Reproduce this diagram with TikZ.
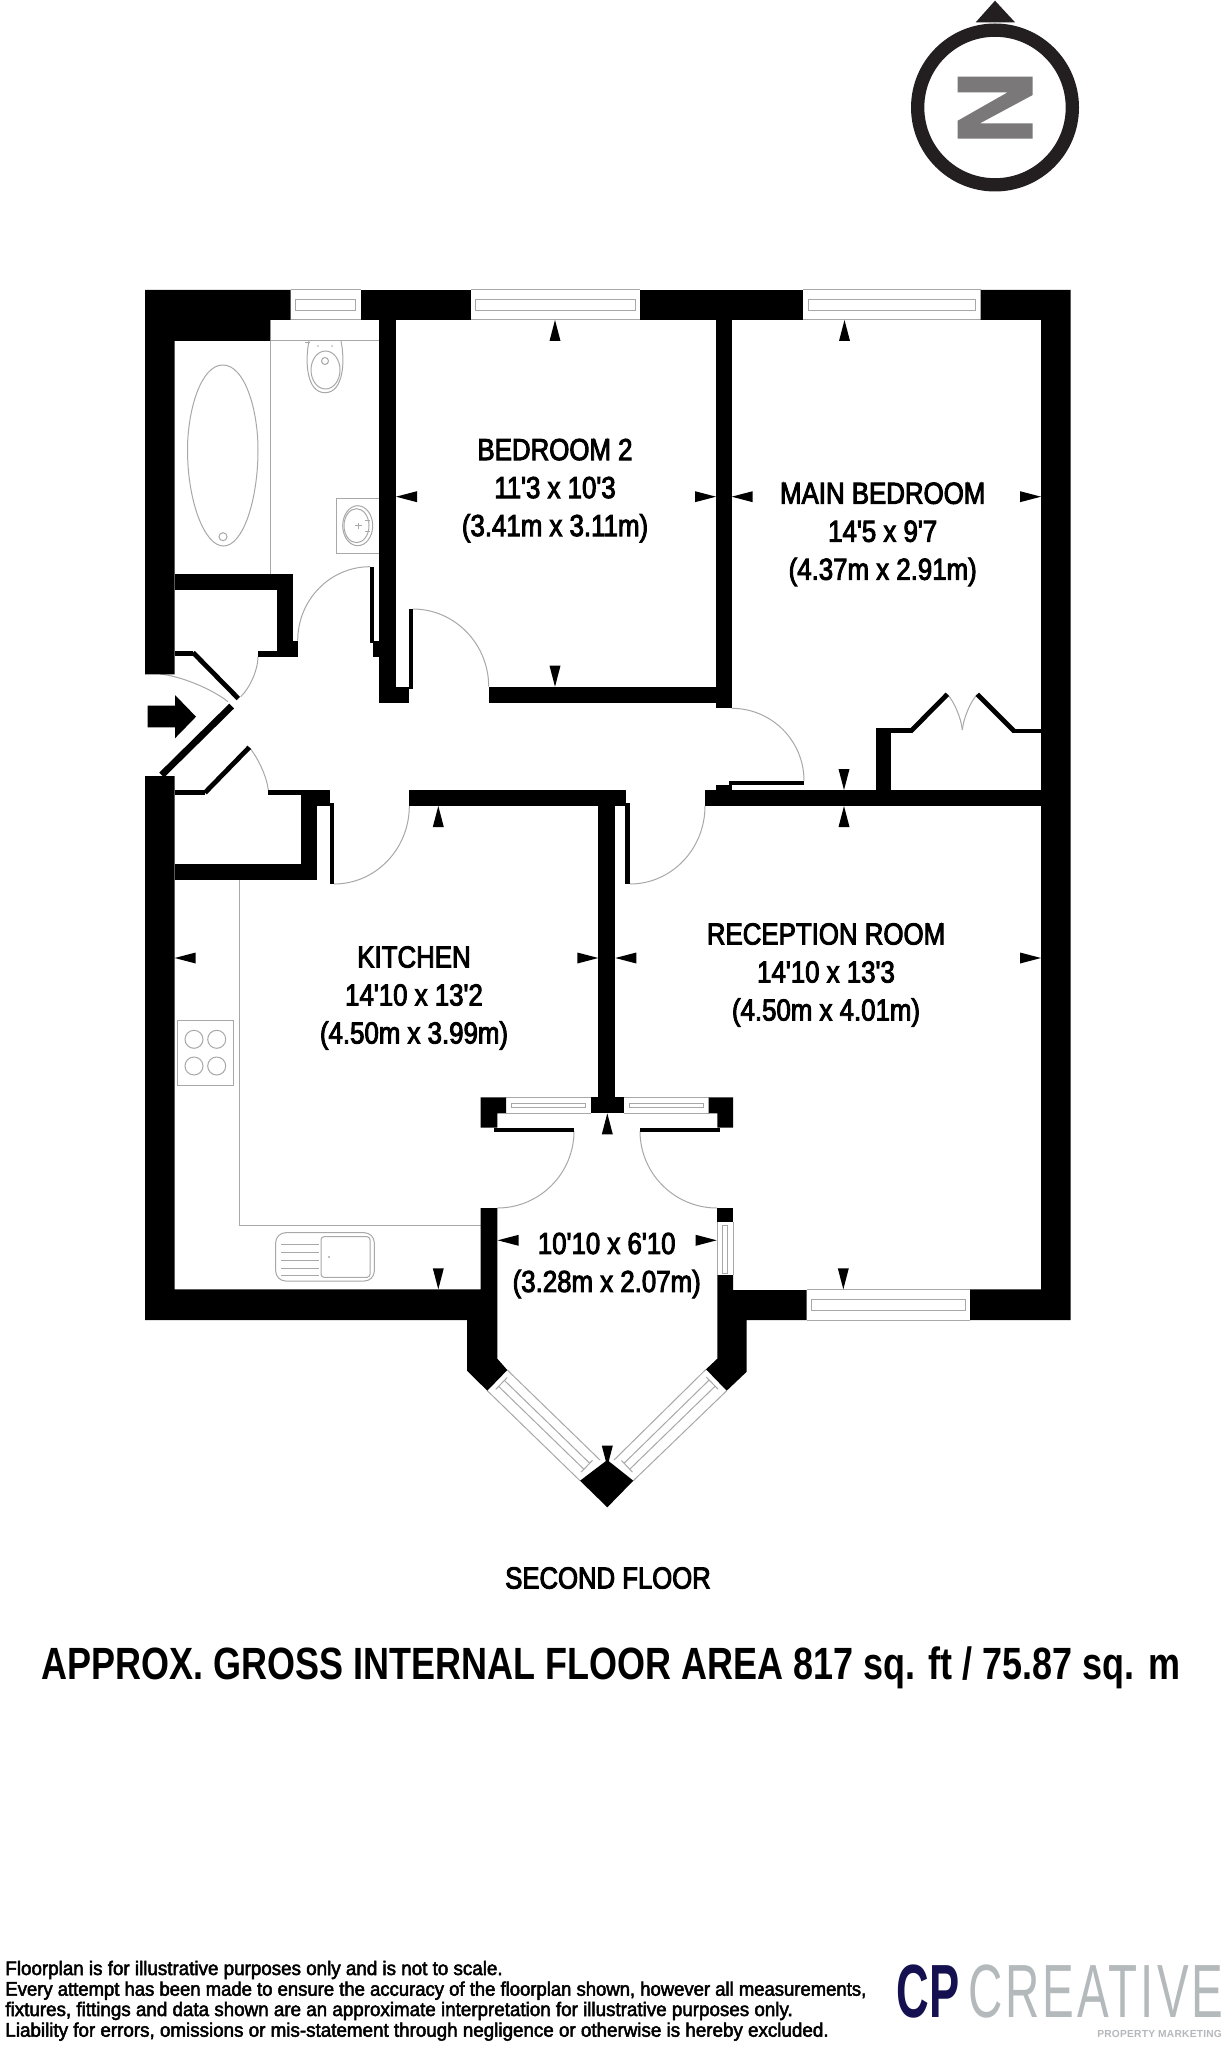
\documentclass[tikz,border=0pt]{standalone}
\usepackage{fontspec}
\usetikzlibrary{calc}
\setmainfont{Liberation Sans}
\newfontfamily\roomf[FakeStretch=.85,FakeBold=3]{Liberation Sans}
\newfontfamily\floorf[FakeStretch=.845,FakeBold=3.2]{Liberation Sans}
\newfontfamily\titlef[FakeStretch=.796]{Liberation Sans Bold}
\newfontfamily\footf[FakeStretch=.959,FakeBold=2.5]{Liberation Sans}
\newfontfamily\footg[FakeStretch=.943,FakeBold=2.5]{Liberation Sans}
\newfontfamily\cpf[FakeStretch=.6]{Liberation Sans Bold}
\newfontfamily\crf[FakeStretch=.63,LetterSpace=4]{Liberation Sans}
\newfontfamily\pmf[LetterSpace=2.4]{Liberation Sans Bold}
\definecolor{fix}{HTML}{A8A8A8}
\definecolor{ink}{HTML}{231F20}
\definecolor{zgrey}{HTML}{7A7879}
\definecolor{navy}{HTML}{15104F}
\definecolor{logogrey}{HTML}{B4B9BC}
\tikzset{
  x=.5pt,y=-.5pt,
  wall/.style={fill=black,draw=none},
  fixt/.style={draw=fix,line width=.5pt},
  leaf/.style={draw=black,line width=2.4pt,line cap=butt},
  tip/.style={fill=black,draw=none},
  room/.style={inner sep=0pt,align=center,font=\roomf\fontsize{15.2}{19}\selectfont},
  footline/.style={inner sep=0pt,anchor=base west,font=\footf\fontsize{9.8}{10.3}\selectfont}
}
\newcommand\W[4]{\fill[wall] (#1,#2) rectangle (#3,#4);}
\newcommand\Darc[6]{\draw[fixt] (#1,#2) .. controls ($(#1,#2)!.552!(#5,#6)$) and ($(#3,#4)!.552!(#5,#6)$) .. (#3,#4);}
\newcommand\Tu[2]{\fill[tip] (#1,#2) -- ($(#1,#2)+(5.5,21)$) -- ($(#1,#2)+(-5.5,21)$) -- cycle;}
\newcommand\Td[2]{\fill[tip] (#1,#2) -- ($(#1,#2)+(5.5,-21)$) -- ($(#1,#2)+(-5.5,-21)$) -- cycle;}
\newcommand\Tl[2]{\fill[tip] (#1,#2) -- ($(#1,#2)+(21,5.5)$) -- ($(#1,#2)+(21,-5.5)$) -- cycle;}
\newcommand\Tr[2]{\fill[tip] (#1,#2) -- ($(#1,#2)+(-21,5.5)$) -- ($(#1,#2)+(-21,-5.5)$) -- cycle;}
% horizontal window x1 x2 ytop ybot inner-top inner-bot
\newcommand\HW[6]{%
  \draw[fixt] (#1,#3) -- (#2,#3) (#1,#4) -- (#2,#4);
  \draw[fixt] ($(#1,#5)+(5,0)$) rectangle ($(#2,#6)+(-5,0)$);}
% bay window, corners A B (wall end) C D (far end)
\newcommand\Bay[8]{%
  \coordinate (ba) at (#1,#2); \coordinate (bb) at (#3,#4);
  \coordinate (bc) at (#5,#6); \coordinate (bd) at (#7,#8);
  \draw[fixt] (ba) -- (bd) (bb) -- (bc);
  \draw[fixt] ($(ba)!.33!(bb)!.04!($(bd)!.33!(bc)$)$) -- ($(bd)!.33!(bc)!.04!($(ba)!.33!(bb)$)$);
  \draw[fixt] ($(ba)!.62!(bb)!.04!($(bd)!.62!(bc)$)$) -- ($(bd)!.62!(bc)!.04!($(ba)!.62!(bb)$)$);
  \draw[fixt] ($(ba)!.2!(bb)!.04!(bd)$) -- ($(ba)!.75!(bb)!.04!(bc)$);
  \draw[fixt] ($(bd)!.2!(bc)!.04!(ba)$) -- ($(bd)!.75!(bc)!.04!(bb)$);}
\begin{document}
\begin{tikzpicture}
\useasboundingbox (0,0) rectangle (1226,2048);
\fill[white] (0,0) rectangle (1226,2048);

%% compass
\fill[ink,even odd rule] (995,107.5) circle [radius=84] (995,107.5) circle [radius=70.7];
\fill[ink] (975.7,22.3) -- (995,.7) -- (1015,22.3) -- cycle;
\fill[zgrey] (957.7,76.7) -- (1032.7,76.7) -- (1032.7,95) -- (980,123.3) -- (1032.7,123.3) -- (1032.7,138.7)
  -- (957.7,138.7) -- (957.7,120.7) -- (1007.7,92.3) -- (957.7,92.3) -- cycle;

%% windows
\HW{290.7}{360.7}{290}{320}{299.3}{310.7}
\HW{470.7}{640}{290}{320}{299.3}{310.7}
\HW{803.3}{980.7}{290}{320}{299.3}{310.7}
\HW{806.7}{970}{1289.3}{1320}{1299}{1310}
\HW{506}{590.7}{1097.3}{1113.3}{1103}{1107.5}
\HW{624}{708.7}{1097.3}{1113.3}{1103}{1107.5}
\draw[fixt] (717.3,1221.7) -- (717.3,1275) (733,1221.7) -- (733,1275);
\draw[fixt] (722.5,1225) rectangle (727.5,1273);
\Bay{507.3}{1370}{487.3}{1390.7}{580}{1480.7}{600}{1460}
\Bay{706}{1369.3}{726.7}{1390.7}{633.3}{1480.7}{614}{1460}

%% bathroom fittings
\draw[fixt] (270,341) -- (379.3,341);
\draw[fixt] (270,320) -- (270,574);
\draw[fixt] (222.8,365) .. controls (245,365) and (258,410) .. (258,450)
  .. controls (258,500) and (243,546) .. (223.5,546)
  .. controls (204,546) and (187.5,500) .. (187.5,450)
  .. controls (187.5,410) and (201,365) .. (222.8,365) -- cycle;
\draw[fixt] (223,536.7) circle [radius=4];
\draw[fixt] (309,341) .. controls (305,360) and (306,392.7) .. (325,392.7)
  .. controls (344,392.7) and (345,360) .. (341,341);
\draw[fixt] (325.5,370) ellipse [x radius=14.5,y radius=19];
\draw[fixt] (325,361) circle [radius=3.5];
\fill[fix] (318,346) circle [radius=.9] (332,346) circle [radius=.9];
\draw[fixt] (305,342.5) -- (310,342.5);
\draw[fixt] (379.3,498) -- (336.7,498) -- (336.7,553.3) -- (379.3,553.3);
\draw[fixt] (357.7,525.7) ellipse [x radius=15,y radius=20];
\draw[fixt] (356.5,525.7) ellipse [x radius=12.5,y radius=17];
\draw[fixt] (355,525.7) -- (361.5,525.7) (358.3,522.5) -- (358.3,529);
\draw[fixt] (365,520) -- (370,520) (365,531) -- (370,531);

%% kitchen fittings
\draw[fixt] (239,880) -- (239,1225.7) -- (480.7,1225.7);
\draw[fixt] (177.3,1020.7) rectangle (233.7,1085.3);
\draw[fixt] (194,1039.3) circle [radius=9] (216.7,1039.3) circle [radius=9]
  (194,1066) circle [radius=9] (216.7,1066) circle [radius=9];
\draw[fixt,rounded corners=5pt] (275.7,1232.7) rectangle (374.3,1281);
\draw[fixt,rounded corners=1.5pt] (321,1236.7) rectangle (370,1277.3);
\draw[fixt] (280.7,1244.3) -- (319,1244.3) (280.7,1252.3) -- (319,1252.3) (280.7,1260) -- (319,1260)
  (280.7,1268) -- (319,1268) (280.7,1275.7) -- (319,1275.7);
\fill[fix] (329,1257) circle [radius=1.2];

%% door swings
\Darc{412.7}{609}{488.7}{686.7}{488.7}{609}
\Darc{370}{566.7}{297.7}{640.7}{297.7}{566.7}
\Darc{160}{674}{228}{701.7}{198}{678}
\Darc{258}{656.7}{240.7}{696.7}{258}{680}
\Darc{250}{748.3}{268.3}{790}{266}{768}
\Darc{334}{884}{409.3}{806}{409.3}{884}
\Darc{630}{884}{705}{806}{705}{884}
\Darc{731.7}{708.3}{804}{780.7}{804}{708.3}
\Darc{947.3}{694.3}{962.3}{730}{960}{708}
\Darc{977.3}{694.3}{962.3}{730}{964.6}{708}
\Darc{574}{1131}{497.3}{1208}{574}{1208}
\Darc{640}{1131}{717}{1208}{640}{1208}

%% walls
\fill[wall] (145,290) -- (290.7,290) -- (290.7,320) -- (270,320) -- (270,341) -- (174.7,341) -- (174.7,674.3) -- (145,674.3) -- cycle;
\W{360.7}{290}{470.7}{320}
\W{379.3}{320}{396}{702.7}
\W{379.3}{686.7}{408.7}{702.7}
\W{408.7}{608.7}{412.7}{689.3}
\W{488.7}{686.7}{716}{702.7}
\W{640}{290}{803.3}{320}
\W{716}{320}{731.7}{708.3}
\fill[wall] (980.7,290) -- (1070.7,290) -- (1070.7,1320) -- (970,1320) -- (970,1289.3) -- (1041,1289.3) -- (1041,320) -- (980.7,320) -- cycle;
% bathroom door leaf
\W{370}{566.7}{373.7}{643}
\W{373.3}{640.7}{379.3}{656.7}
% upper cupboard
\W{174.7}{574}{293.3}{590}
\W{277.3}{574}{293.3}{656.7}
\W{258}{651.3}{277.3}{656.7}
\W{293.3}{640.7}{297.7}{656.7}
\W{174.7}{651}{193.3}{656}
\draw[leaf] (193,652.5) -- (238.3,698.5);
% entrance
\draw[draw=black,line width=3.4pt] (231.7,706) -- (161.7,775);
\fill[wall] (147.7,705.7) -- (175,705.7) -- (175,695) -- (196,716.7) -- (175,738.3) -- (175,727.3) -- (147.7,727.3) -- cycle;
% lower left
\fill[wall] (145,776) -- (174.7,776) -- (174.7,1289.3) -- (480.7,1289.3) -- (480.7,1208) -- (497.3,1208)
  -- (497.3,1358.7) -- (507.3,1370) -- (487.3,1390.7) -- (467,1370.7) -- (467,1320) -- (145,1320) -- cycle;
\draw[leaf] (249.3,747.3) -- (205,792.7);
\W{174.7}{790}{205}{795}
% lower cupboard
\W{268.3}{790}{330}{795}
\W{300.7}{790}{316.7}{880}
\W{316.7}{790}{330}{805.7}
\W{174.7}{864}{316.7}{880}
\W{330}{803.3}{334}{884}
% kitchen top wall
\W{409.3}{790}{625.7}{806}
\W{598.3}{806}{615.3}{1097.3}
\W{625.3}{803.3}{630}{884}
% right of hall
\W{705}{790}{1041}{806}
\W{716}{784.7}{731.7}{790}
\W{728.7}{780.7}{804}{785}
% wardrobe
\W{875.7}{728.3}{891.3}{790}
\W{875.7}{728.3}{911.7}{733.3}
\draw[leaf] (910.5,731.5) -- (947.3,694.3);
\draw[leaf] (977.3,694.3) -- (1014.5,731.5);
\W{1013.3}{728.6}{1041}{733.3}
% porch
\W{590.7}{1097.3}{624}{1113.3}
\fill[wall] (480.7,1097.3) -- (506,1097.3) -- (506,1113.3) -- (497.3,1113.3) -- (497.3,1127.7) -- (480.7,1127.7) -- cycle;
\W{494.3}{1127.7}{574}{1131.7}
\fill[wall] (708.7,1097.3) -- (733,1097.3) -- (733,1127.7) -- (717.3,1127.7) -- (717.3,1113.3) -- (708.7,1113.3) -- cycle;
\W{640}{1127.7}{720}{1131.7}
\W{717.3}{1208}{733}{1221.7}
\fill[wall] (717.3,1275) -- (733,1275) -- (733,1290) -- (806.7,1290) -- (806.7,1320) -- (746.7,1320) -- (746.7,1371.7)
  -- (726.7,1390.7) -- (706,1369.3) -- (717.3,1358.7) -- cycle;
\fill[wall] (607.3,1460) -- (633.3,1480.7) -- (607.3,1507.3) -- (580,1480.7) -- cycle;

%% dimension tips
\Tu{555}{320} \Td{555}{686.7} \Tl{396}{496.7} \Tr{716}{496.7}
\Tu{844.5}{320} \Tl{731.7}{496.7} \Tr{1041}{496.7} \Td{844}{790} \Tu{844}{806}
\Tl{615.3}{958} \Tr{1041}{958} \Td{843.3}{1289.3}
\Tu{438.3}{806} \Tl{174.7}{958} \Tr{598.3}{958} \Td{438.3}{1289.3}
\Tl{497.7}{1240.3} \Tr{716.7}{1240.3} \Tu{607.3}{1113.3} \Td{607.3}{1466.7}

%% labels
\node[room] (bed2) at (555,490.6) {BEDROOM 2\\11'3 x 10'3\\(3.41m x 3.11m)};
\node[room] (mainbed) at (882.7,534.3) {MAIN BEDROOM\\14'5 x 9'7\\(4.37m x 2.91m)};
\node[room] (recep) at (826,975) {RECEPTION ROOM\\14'10 x 13'3\\(4.50m x 4.01m)};
\node[room] (kitchen) at (414,998) {KITCHEN\\14'10 x 13'2\\(4.50m x 3.99m)};
\node[room] (porch) at (606.7,1265.5) {10'10 x 6'10\\(3.28m x 2.07m)};
\node[inner sep=0pt,font=\floorf\fontsize{15.2}{19}\selectfont] (floor) at (608,1578) {SECOND FLOOR};
\node[inner sep=0pt,font=\titlef\fontsize{22.6}{26}\selectfont] (area) at (611,1668) {APPROX. GROSS INTERNAL FLOOR AREA 817 sq. ft / 75.87 sq. m};

\node[footline] (f1) at (5,1975) {Floorplan is for illustrative purposes only and is not to scale.};
\node[footline,font=\footg\fontsize{9.8}{10.3}\selectfont] (f2) at (5,1995.7) {Every attempt has been made to ensure the accuracy of the floorplan shown, however all measurements,};
\node[footline] (f3) at (5,2016) {fixtures, fittings and data shown are an approximate interpretation for illustrative purposes only.};
\node[footline] (f4) at (5,2036.7) {Liability for errors, omissions or mis-statement through negligence or otherwise is hereby excluded.};

%% logo
\node[inner sep=0pt,anchor=base west,text=navy,font=\cpf\fontsize{37.7}{40}\selectfont] (cp) at (896,2017.3) {CP};
\node[inner sep=0pt,anchor=base west,text=logogrey,font=\crf\fontsize{37.7}{40}\selectfont] (cr) at (968,2017.3) {CREATIVE};
\node[inner sep=0pt,anchor=base east,text=logogrey,font=\pmf\fontsize{5.1}{6}\selectfont] (pm) at (1222.3,2037.3) {PROPERTY MARKETING};
\end{tikzpicture}
\end{document}
